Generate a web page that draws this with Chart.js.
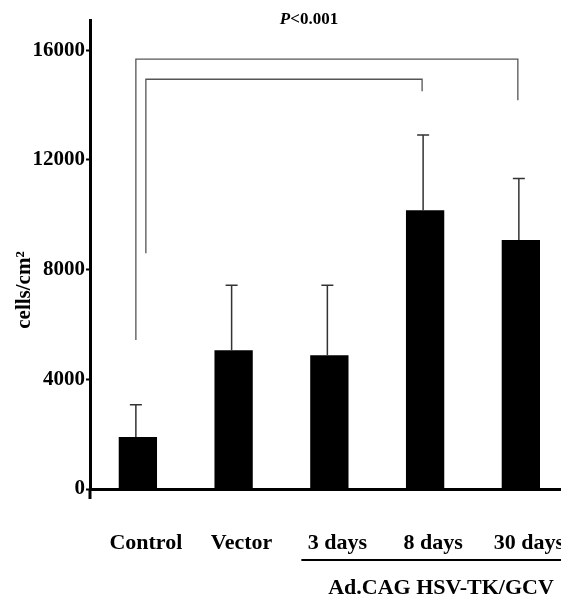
<!DOCTYPE html>
<html>
<head>
<meta charset="utf-8">
<script src="https://cdn.jsdelivr.net/npm/chart.js@4.4.1/dist/chart.umd.min.js"></script>
<style>
  html, body { margin: 0; padding: 0; background: #fff; overflow: hidden; }
  canvas { display: block; }
</style>
</head>
<body>
<canvas id="grafico" width="600" height="598"></canvas>
<script>
// valores
const categorias = ['Control', 'Vector', '3 days', '8 days', '30 days'];
const medias = [1900, 5060, 4880, 10160, 9080];
const desvios = [1170, 2370, 2550, 2750, 2240];
const ticksY = [0, 4000, 8000, 12000, 16000];
const tituloY = 'cells/cm²';
const grupo = 'Ad.CAG HSV-TK/GCV';
const pTexto = ['P', '<0.001'];
// colchetes de significância (em unidades do eixo y)
const colcheteExterno = { de: 0, ate: 4, topo: 15670, baseEsq: 5430, baseDir: 14170 };
const colcheteInterno = { de: 0, ate: 3, topo: 14940, baseEsq: 8600, baseDir: 14500 };

const fonte = 'Liberation Serif, Times New Roman, serif';

const anotacoes = {
    id: 'anotacoes',
    afterDatasetsDraw(chart) {
        const ctx = chart.ctx;
        const x = chart.scales.x;
        const y = chart.scales.y;
        ctx.save();

        // barras de erro (só para cima)
        ctx.strokeStyle = '#333';
        ctx.lineWidth = 1.5;
        medias.forEach((m, i) => {
            const px = x.getPixelForValue(i) - 2;
            const y0 = y.getPixelForValue(m);
            const y1 = y.getPixelForValue(m + desvios[i]);
            ctx.beginPath();
            ctx.moveTo(px, y0);
            ctx.lineTo(px, y1);
            ctx.moveTo(px - 6, y1);
            ctx.lineTo(px + 6, y1);
            ctx.stroke();
        });

        // colchetes
        ctx.strokeStyle = '#555';
        ctx.lineWidth = 1.3;
        function colchete(c, dxEsq, dxDir) {
            const xe = x.getPixelForValue(c.de) + dxEsq;
            const xd = x.getPixelForValue(c.ate) + dxDir;
            ctx.beginPath();
            ctx.moveTo(xe, y.getPixelForValue(c.baseEsq));
            ctx.lineTo(xe, y.getPixelForValue(c.topo));
            ctx.lineTo(xd, y.getPixelForValue(c.topo));
            ctx.lineTo(xd, y.getPixelForValue(c.baseDir));
            ctx.stroke();
        }
        colchete(colcheteExterno, -2, -3);
        colchete(colcheteInterno, 8, -3);

        // prolongamento do eixo y abaixo da base
        ctx.strokeStyle = '#000';
        ctx.lineWidth = 3;
        ctx.beginPath();
        ctx.moveTo(chart.chartArea.left, chart.chartArea.bottom);
        ctx.lineTo(chart.chartArea.left, chart.chartArea.bottom + 10);
        ctx.stroke();

        // P<0.001
        ctx.fillStyle = '#000';
        ctx.textBaseline = 'middle';
        ctx.textAlign = 'left';
        ctx.font = 'italic bold 17px ' + fonte;
        const wP = ctx.measureText(pTexto[0]).width;
        ctx.font = 'bold 17px ' + fonte;
        const wR = ctx.measureText(pTexto[1]).width;
        const xP = 309 - (wP + wR) / 2;
        ctx.font = 'italic bold 17px ' + fonte;
        ctx.fillText(pTexto[0], xP, 20);
        ctx.font = 'bold 17px ' + fonte;
        ctx.fillText(pTexto[1], xP + wP, 20);

        // título do eixo y
        ctx.save();
        ctx.translate(25, 290);
        ctx.rotate(-Math.PI / 2);
        ctx.textAlign = 'center';
        ctx.font = 'bold 21px ' + fonte;
        ctx.fillText(tituloY, 0, 0);
        ctx.restore();

        // grupo Ad.CAG
        const xIni = x.getPixelForValue(2) - 28;
        ctx.lineWidth = 2;
        ctx.beginPath();
        ctx.moveTo(xIni, 560);
        ctx.lineTo(chart.width, 560);
        ctx.stroke();
        ctx.textAlign = 'center';
        ctx.font = 'bold 22px ' + fonte;
        ctx.fillText(grupo, 441, 588);

        ctx.restore();
    }
};

new Chart(document.getElementById('grafico'), {
    type: 'bar',
    data: {
        labels: categorias,
        datasets: [{
            data: medias,
            backgroundColor: '#000',
            categoryPercentage: 1,
            barPercentage: 0.4
        }]
    },
    options: {
        responsive: false,
        animation: false,
        devicePixelRatio: 1,
        layout: { padding: { top: 20, right: 30, left: 0, bottom: 0 } },
        plugins: { legend: { display: false }, tooltip: { enabled: false } },
        scales: {
            x: {
                afterFit(s) { s.height = 109; },
                grid: { display: false, drawTicks: false },
                border: { color: '#000', width: 3 },
                ticks: {
                    color: '#000',
                    padding: 41,
                    labelOffset: 8,
                    maxRotation: 0,
                    font: { family: fonte, size: 22, weight: 'bold' }
                }
            },
            y: {
                min: 0,
                max: 17100,
                afterFit(s) { s.width = 90; },
                afterBuildTicks(s) { s.ticks = ticksY.map(v => ({ value: v })); },
                grid: { drawOnChartArea: false, tickLength: 4, color: '#000', tickWidth: 2 },
                border: { color: '#000', width: 3 },
                ticks: {
                    color: '#000',
                    padding: 1,
                    callback: v => String(v),
                    font: { family: fonte, size: 21, weight: 'bold' }
                }
            }
        }
    },
    plugins: [anotacoes]
});
</script>
</body>
</html>
